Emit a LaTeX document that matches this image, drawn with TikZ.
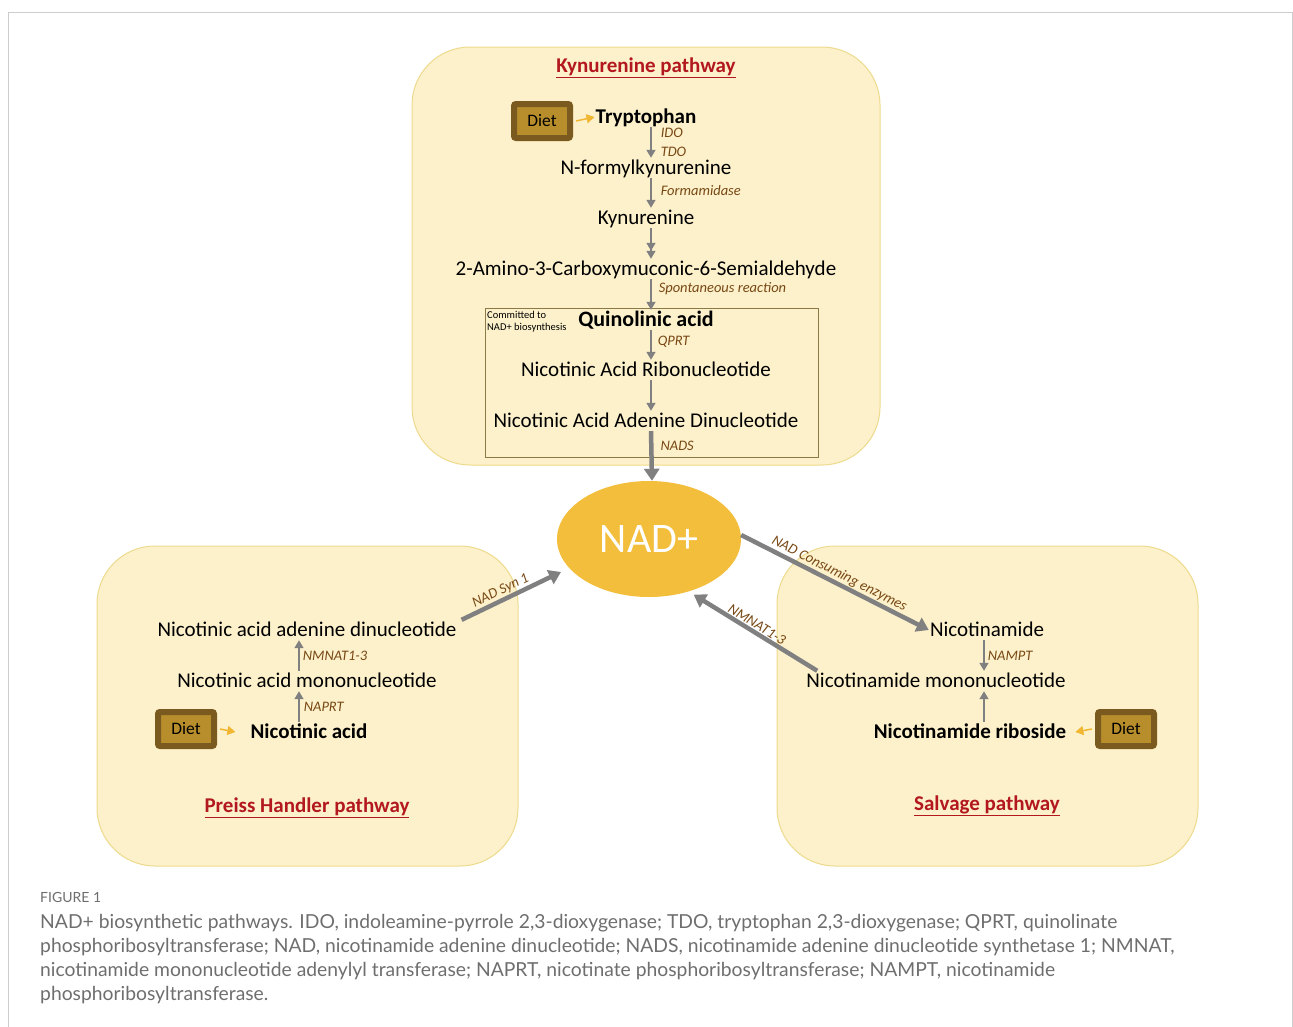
\documentclass[tikz,border=0pt]{standalone}
\usepackage{fontspec}
\setmainfont{Carlito}
\newfontfamily\capfont{Lato}
\usepackage{tikz}
\usetikzlibrary{arrows.meta,shapes}
\usetikzlibrary{positioning}
\usetikzlibrary{calc}

\definecolor{boxfill}{RGB}{252,241,203}
\definecolor{boxline}{RGB}{238,218,140}
\definecolor{titlered}{RGB}{178,24,30}
\definecolor{enzbrown}{RGB}{120,72,20}
\definecolor{arrowgray}{RGB}{128,128,128}
\definecolor{nadgold}{RGB}{242,190,60}
\definecolor{dietdark}{RGB}{122,90,30}
\definecolor{dietlight}{RGB}{184,142,44}
\definecolor{dietarrow}{RGB}{242,183,50}
\definecolor{committed}{RGB}{140,122,70}
\definecolor{framegray}{RGB}{205,205,205}
\definecolor{captiongray}{RGB}{110,110,110}

\tikzset{
	pathway/.style={draw=boxline, fill=boxfill, line width=1pt, rounded corners=58pt},
	metab/.style={inner sep=1pt, text height=15pt, text depth=3pt, font=\fontsize{21}{24}\selectfont},
	metabbold/.style={metab, font=\fontsize{21}{24}\selectfont\bfseries},
	enzyme/.style={font=\fontsize{14.5}{16}\selectfont\itshape, text=enzbrown, inner sep=1pt},
	pathtitle/.style={font=\fontsize{21}{24}\selectfont\bfseries, text=titlered},
	reaction/.style={draw=arrowgray, line width=1.5pt, -{Triangle[width=9pt,length=8pt]}},
	bigreaction/.style={draw=arrowgray, line width=4.5pt, -{Triangle[width=15pt,length=12pt]}},
	dietbox/.style={draw=dietdark, fill=dietlight, line width=6pt, rounded corners=2pt,
		minimum width=56pt, minimum height=34pt, inner sep=0pt, font=\fontsize{17.5}{20}\selectfont},
	dietarr/.style={draw=dietarrow, line width=1.5pt, -{Triangle[width=9pt,length=8pt]}},
}

\begin{document}
\begin{tikzpicture}[x=1pt, y=-1pt]
	\useasboundingbox (0,0) rectangle (1293,1026);
	\draw[framegray, line width=0.8pt] (8,1040) -- (8,12) -- (1292,12) -- (1292,1040);

	% Kynurenine pathway
	\draw[pathway] (412,47) rectangle (880,465);
	\node[pathtitle] (kyntitle) at (646,68) {\underline{Kynurenine pathway}};
	\node[metabbold] (trp) at (646,117) {Tryptophan};
	\node[dietbox] (diet1) at (542,121) {Diet};
	\node[metab] (nfk) at (646,168) {N-formylkynurenine};
	\node[metab] (kyn) at (646,218) {Kynurenine};
	\node[metab] (acms) at (646,269) {2-Amino-3-Carboxymuconic-6-Semialdehyde};
	\draw[committed, line width=0.8pt] (485,308) rectangle (818,457);
	\node[anchor=north west, align=left, inner sep=1pt, font=\fontsize{10.5}{12}\selectfont] (commit) at (486,310) {Committed to\\NAD+ biosynthesis};
	\node[metabbold, font=\fontsize{22}{24}\selectfont\bfseries] (qa) at (646,320) {Quinolinic acid};
	\node[metab] (narn) at (646,370) {Nicotinic Acid Ribonucleotide};
	\node[metab] (naad) at (646,421) {Nicotinic Acid Adenine Dinucleotide};

	\draw[dietarr] ([xshift=3pt]diet1.east) -- (trp.west);
	\draw[reaction] ([xshift=5pt]trp.south) -- ([xshift=5pt]nfk.north)
		node[enzyme, pos=0.2, right=8pt] {IDO} node[enzyme, pos=0.8, right=8pt] {TDO};
	\draw[reaction] ([xshift=5pt]nfk.south) -- ([xshift=5pt]kyn.north)
		node[enzyme, pos=0.4, right=8pt] {Formamidase};
	\draw[draw=arrowgray, line width=1.5pt, -{Triangle[width=9pt,length=8pt] Triangle[width=9pt,length=8pt]}]
		([xshift=5pt]kyn.south) -- ([xshift=5pt]acms.north);
	\draw[reaction] ([xshift=5pt]acms.south) -- ([xshift=5pt]qa.north)
		node[enzyme, pos=0.3, right=6pt] {Spontaneous reaction};
	\draw[reaction] ([xshift=5pt]qa.south) -- ([xshift=5pt]narn.north)
		node[enzyme, pos=0.4, right=5pt] {QPRT};
	\draw[reaction] ([xshift=5pt]narn.south) -- ([xshift=5pt]naad.north);

	% NAD+
	\node[ellipse, fill=nadgold, minimum width=184pt, minimum height=116pt, inner sep=0pt,
		text=white, font=\fontsize{42}{48}\selectfont] (nad) at (649,539) {NAD+};
	\draw[bigreaction] ([xshift=5pt]naad.south) -- ([xshift=3pt]nad.north)
		node[enzyme, pos=0.3, right=6pt] {NADS};

	% Preiss Handler pathway
	\draw[pathway] (97,546) rectangle (518,866);
	\node[metab] (pnaad) at (307,630) {Nicotinic acid adenine dinucleotide};
	\node[metab] (pnamn) at (307,681) {Nicotinic acid mononucleotide};
	\node[metabbold] (na) at (309,732) {Nicotinic acid};
	\node[dietbox] (diet2) at (186,729) {Diet};
	\node[pathtitle] (phtitle) at (307,808) {\underline{Preiss Handler pathway}};
	\draw[dietarr] ([xshift=3pt]diet2.east) -- ([xshift=-14pt]na.west);
	\draw[reaction] ([xshift=-10pt]na.north) -- ([xshift=-10pt]na.north |- pnamn.south)
		node[enzyme, midway, right=3pt] {NAPRT};
	\draw[reaction] ([xshift=-8pt]pnamn.north) -- ([xshift=-8pt]pnaad.south)
		node[enzyme, midway, right=2pt] {NMNAT1-3};
	\draw[bigreaction, shorten >=9pt] ([xshift=4pt]pnaad.north east) -- (nad.200)
		node[enzyme, pos=0.4, above, sloped] {NAD Syn 1};

	% Salvage pathway
	\draw[pathway] (777,546) rectangle (1198,866);
	\node[metab] (nam) at (987,630) {Nicotinamide};
	\node[metab] (nmn) at (936,681) {Nicotinamide mononucleotide};
	\node[metabbold] (nr) at (970,732) {Nicotinamide riboside};
	\node[dietbox] (diet3) at (1126,729) {Diet};
	\node[pathtitle] (svtitle) at (987,806) {\underline{Salvage pathway}};
	\draw[dietarr] ([xshift=-3pt]diet3.west) -- ([xshift=8pt]nr.east);
	\draw[reaction] ([xshift=-3pt]nam.south) -- ([xshift=-3pt]nam.south |- nmn.north)
		node[enzyme, midway, right=2pt] {NAMPT};
	\draw[reaction] ([xshift=14pt]nr.north) -- ([xshift=14pt]nr.north |- nmn.south);
	\draw[bigreaction] ([yshift=4pt]nad.east) -- (nam.west)
		node[enzyme, midway, above, sloped] {NAD Consuming enzymes};
	\draw[bigreaction, shorten >=6pt] ([xshift=12pt]nmn.north west) -- (nad.-53)
		node[enzyme, midway, above, sloped] {NMNAT1-3};

	% caption
	\node[anchor=north west, inner sep=0pt, text=captiongray, font=\capfont\fontsize{14}{16}\selectfont] (figlabel) at (40,892) {FIGURE 1};
	\node[anchor=north west, align=left, inner sep=0pt, text=captiongray, font=\capfont\fontsize{19.3}{24}\selectfont] (caption) at (40,914)
		{NAD+ biosynthetic pathways. IDO, indoleamine-pyrrole 2,3-dioxygenase; TDO, tryptophan 2,3-dioxygenase; QPRT, quinolinate\\
		phosphoribosyltransferase; NAD, nicotinamide adenine dinucleotide; NADS, nicotinamide adenine dinucleotide synthetase 1; NMNAT,\\
		nicotinamide mononucleotide adenylyl transferase; NAPRT, nicotinate phosphoribosyltransferase; NAMPT, nicotinamide\\
		phosphoribosyltransferase.};
\end{tikzpicture}
\end{document}
